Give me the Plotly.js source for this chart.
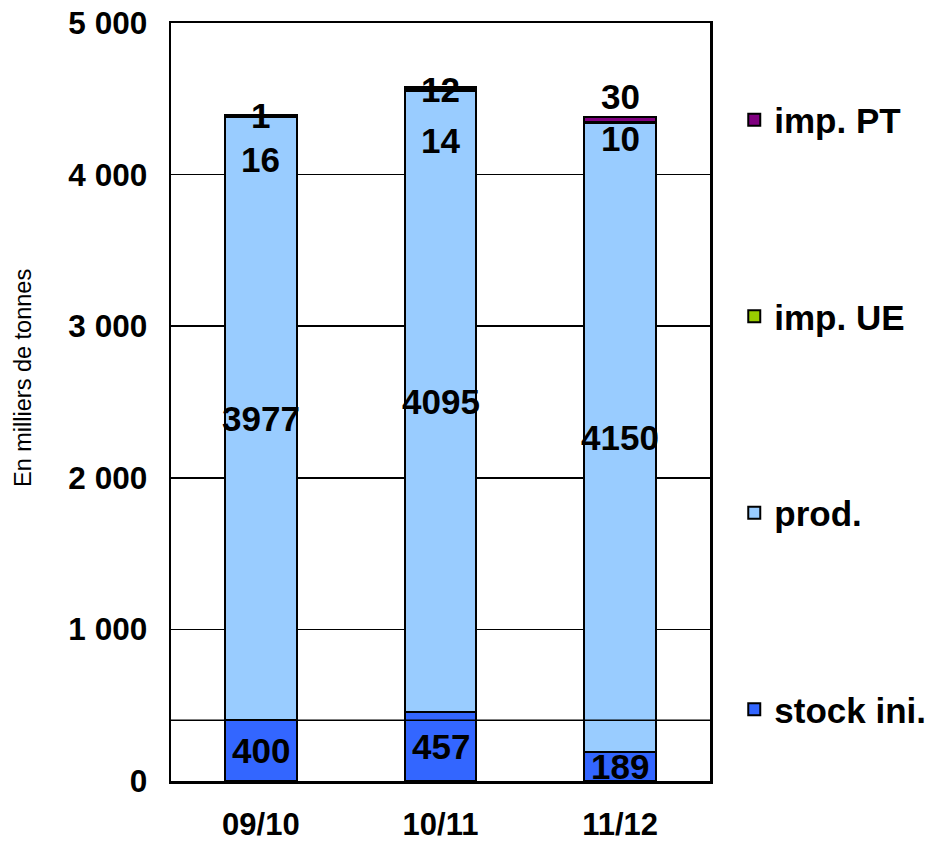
<!DOCTYPE html>
<html>
<head>
<meta charset="utf-8">
<script src="https://cdn.plot.ly/plotly-3.0.1.min.js"></script>
<style>html,body{margin:0;padding:0;background:#fff;}#chart{width:934px;height:845px;}</style>
</head>
<body>
<div id="chart"></div>
<script>
const categories = ["09/10", "10/11", "11/12"];
const stockIni = [400, 457, 189];
const prod = [3977, 4095, 4150];
const impUE = [16, 14, 10];
const impPT = [1, 12, 30];
const seriesNames = ["stock ini.", "prod.", "imp. UE", "imp. PT"];
const yTitle = "En milliers de tonnes";

const colors = ["#3366FF", "#99CCFF", "#99CC00", "#800080"];
const allSeries = [stockIni, prod, impUE, impPT];
const font = "Liberation Sans, Arial, sans-serif";

const traces = allSeries.map((vals, i) => ({
  type: "bar",
  name: seriesNames[i],
  x: categories,
  y: vals,
  legendgroup: "g" + i,
  legendrank: 100 - i,
  marker: {color: colors[i], line: {color: "#000", width: 2}},
  hoverinfo: "name+y"
}));

// labels
const annotations = [];
const lblFont = {family: font, size: 35, color: "#000", weight: "bold"};
const ueShift = [-45, -54, -21];
const ptShift = [-1, -3, 21];
categories.forEach((c, j) => {
  annotations.push({x: c, y: stockIni[j] / 2, text: "<b>" + stockIni[j] + "</b>", showarrow: false, font: lblFont});
  annotations.push({x: c, y: stockIni[j] + prod[j] / 2, text: "<b>" + prod[j] + "</b>", showarrow: false, font: lblFont});
  const top = stockIni[j] + prod[j] + impUE[j] + impPT[j];
  annotations.push({x: c, y: top, yshift: ueShift[j], text: "<b>" + impUE[j] + "</b>", showarrow: false, font: lblFont});
  annotations.push({x: c, y: top, yshift: ptShift[j], text: "<b>" + impPT[j] + "</b>", showarrow: false, font: lblFont});
});
annotations.push({
  xref: "paper", yref: "paper", x: 0, xshift: -148, xanchor: "center", y: 0.5, yshift: 24, yanchor: "middle",
  text: yTitle, textangle: -90, showarrow: false,
  font: {family: font, size: 23.5, color: "#000"}
});

const layout = {
  width: 934, height: 845,
  margin: {l: 171, r: 224, t: 23, b: 64, autoexpand: false},
  paper_bgcolor: "#fff", plot_bgcolor: "#fff",
  barmode: "stack",
  bargap: 0.6,
  separators: ", ",
  font: {family: font, color: "#000"},
  xaxis: {
    type: "category",
    showline: true, linecolor: "#000", linewidth: 2.5, mirror: true,
    ticks: "", ticklabelstandoff: 14,
    tickfont: {family: font, size: 31, color: "#000", weight: "bold"}
  },
  yaxis: {
    range: [0, 5000], dtick: 1000, tickformat: ",",
    showline: true, linecolor: "#000", linewidth: 2.5, mirror: true,
    showgrid: true, gridcolor: "#000", gridwidth: 1.5,
    zeroline: false,
    ticks: "", ticklabelstandoff: 15,
    tickfont: {family: font, size: 31.5, color: "#000", weight: "bold"}
  },
  legend: {
    x: 1.045, xanchor: "left", y: 0.911, yanchor: "top",
    traceorder: "grouped", tracegroupgap: 148,
    font: {family: font, size: 35, color: "#000", weight: "bold"},
    bgcolor: "rgba(0,0,0,0)"
  },
  shapes: [{type: "line", xref: "paper", x0: 0, x1: 1, yref: "y", y0: stockIni[0], y1: stockIni[0], line: {color: "#000", width: 1.5}}],
  annotations: annotations
};

Plotly.newPlot("chart", traces, layout, {displayModeBar: false, staticPlot: true});
</script>
</body>
</html>
